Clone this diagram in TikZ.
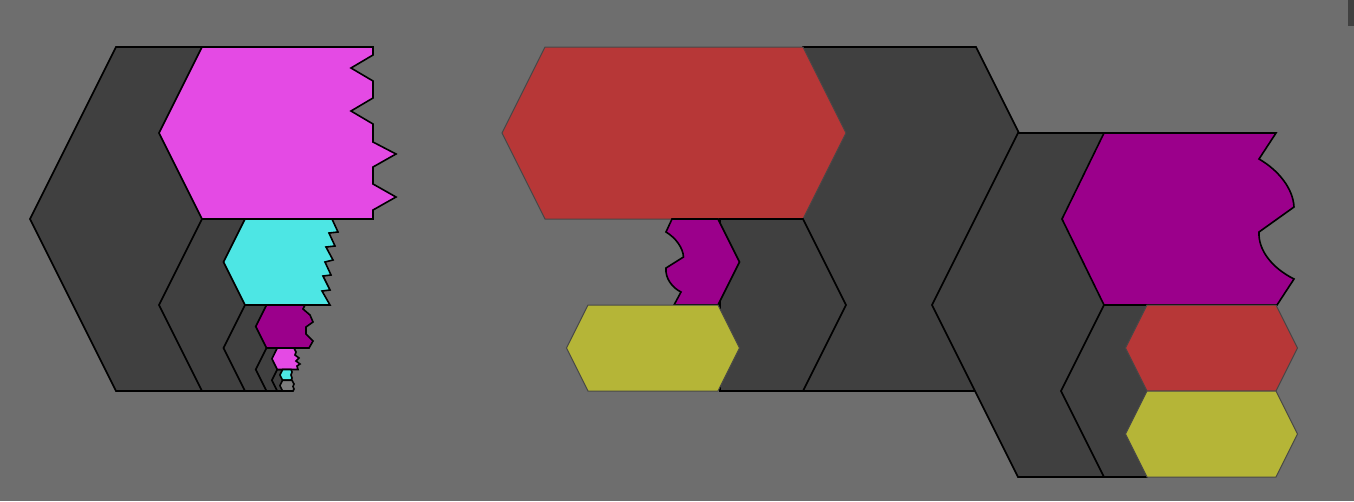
\documentclass[tikz,border=0pt]{standalone}
\usetikzlibrary{calc}
\definecolor{bggray}{RGB}{110,110,110}
\definecolor{celldark}{RGB}{64,64,64}
\definecolor{cellmagenta}{RGB}{228,74,228}
\definecolor{cellcyan}{RGB}{77,230,228}
\definecolor{cellpurple}{RGB}{155,0,139}
\definecolor{cellred}{RGB}{183,55,55}
\definecolor{cellyellow}{RGB}{181,181,55}
\definecolor{cellgray}{RGB}{124,124,124}

% hexcell{style}{top-left x}{top-right x}{top y}{height}
\newcommand{\hexcell}[5]{%
  \draw[#1] ({#2-#5/4},{#4+#5/2}) -- (#2,#4) -- (#3,#4) -- ({#3+#5/4},{#4+#5/2})
    -- (#3,{#4+#5}) -- (#2,{#4+#5}) -- cycle;}

\begin{document}
\begin{tikzpicture}[
    x=1pt, y=-1pt,
    darkcell/.style={
        fill=celldark, draw=black, line width=1.6pt
    },
    torn/.style={
        draw=black, line width=1.6pt
    },
    flatcell/.style={
        draw=black!72, line width=1pt
    }
]

% --- canvas ---
\useasboundingbox (0,0) rectangle (1354,501);
\fill[bggray] (0,0) rectangle (1354,501);
\fill[celldark] (1348,0) rectangle (1354,26);

% --- left stack: nested dark cells ---
\foreach \x/\t/\h in {116/47/344, 202/219/172, 245/305/86, 266.5/348/43, 277.25/369.5/21.5}
    \hexcell{darkcell}{\x}{\x+\h/4}{\t}{\h};

% --- left stack: torn cells ---
\draw[torn, fill=cellmagenta] (202,47) -- (373,47) -- (373,55) -- (351,68) -- (373,81)
    -- (373,98) -- (351,111) -- (373,124) -- (373,142) -- (396,154) -- (373,167)
    -- (373,184) -- (396,197) -- (373,210) -- (373,219) -- (202,219) -- (159,133) -- cycle;
\draw[torn, fill=cellcyan] (245,219) -- (332,219) -- (338,232) -- (329,233) -- (335,246)
    -- (326,247) -- (333,260) -- (325,262) -- (331,275) -- (323,276) -- (330,290)
    -- (322,291) -- (330,305) -- (245,305) -- (223.5,262) -- cycle;
\draw[torn, fill=cellpurple] (266.5,305) -- (305,305) -- (303,309) -- (310,315) -- (313,322)
    -- (306,327) -- (306,334) -- (313,341) -- (309,348) -- (266.5,348) -- (255.75,326.5) -- cycle;
\draw[torn, fill=cellmagenta] (277.25,348) -- (294,348) -- (296,352) -- (295,355) -- (299,358)
    -- (296,361) -- (300,364) -- (297,366) -- (298,369.5) -- (277.25,369.5) -- (271.9,358.75) -- cycle;
\draw[torn, fill=cellcyan] (282.6,369.5) -- (291,369.5) -- (292,372) -- (291,375) -- (292,378)
    -- (291,380.25) -- (282.6,380.25) -- (279.9,374.9) -- cycle;
\draw[torn, fill=cellgray] (282.6,380.25) -- (292,380.25) -- (294,384) -- (293,386.5) -- (294,389)
    -- (293,391) -- (282.6,391) -- (279.9,385.6) -- cycle;

% --- right group, first half (grows left) ---
\hexcell{darkcell}{803}{976}{47}{344}
\hexcell{flatcell, fill=cellred}{545}{803}{47}{172}
\draw[darkcell] (720,219) -- (803,219) -- (846,305) -- (803,391) -- (720,391) -- cycle;
\draw[torn, fill=cellpurple] (672,219) -- (718,219) -- (739.5,262) -- (718,305) -- (674,305)
    -- (681,292) .. controls (673,288) and (665,279) .. (666,268)
    -- (683.5,257) .. controls (683,248) and (676,238) .. (666,232) -- cycle;
\hexcell{flatcell, fill=cellyellow}{588}{718}{305}{86}

% --- right group, second half (grows right) ---
\hexcell{darkcell}{1018}{1104}{133}{344}
\draw[torn, fill=cellpurple] (1104,133) -- (1276,133)
    -- (1259,159) .. controls (1278,170) and (1293,188) .. (1294,207)
    -- (1259,232) .. controls (1258,250) and (1272,268) .. (1294,279)
    -- (1277,305) -- (1104,305) -- (1062,219) -- cycle;
\hexcell{darkcell}{1104}{1147}{305}{172}
\hexcell{flatcell, fill=cellred}{1147}{1276}{305}{86}
\hexcell{flatcell, fill=cellyellow}{1147}{1276}{391}{86}

\end{tikzpicture}
\end{document}
